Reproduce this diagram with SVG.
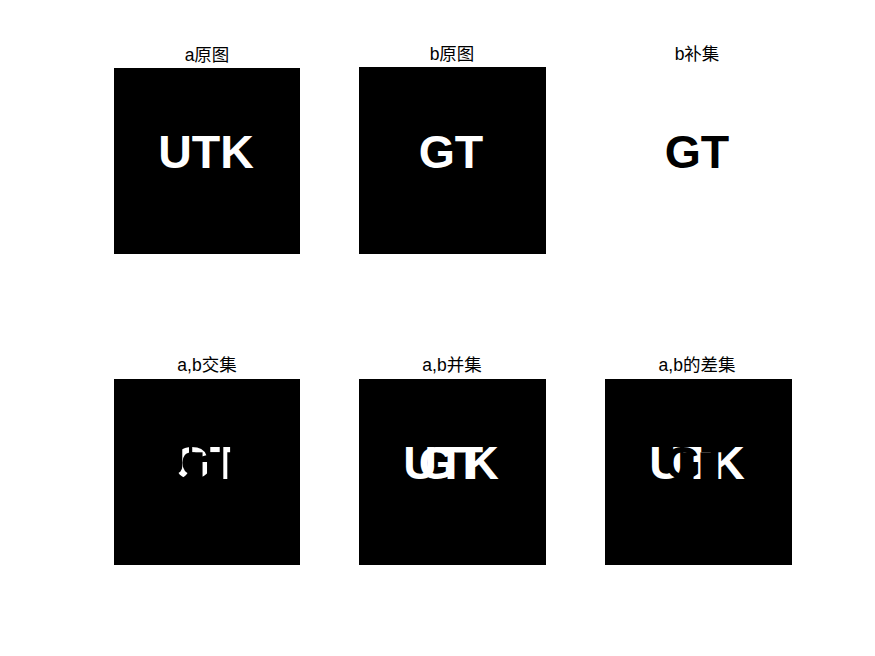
<svg xmlns="http://www.w3.org/2000/svg" width="875" height="656" viewBox="0 0 875 656">
<style>
.title{font-family:"Liberation Sans","Noto Sans CJK SC",sans-serif;font-size:17.5px;fill:#000;text-anchor:middle}
.big{font-family:"Liberation Sans",Arial,sans-serif;font-weight:bold;font-size:46.5px;text-anchor:middle}
.w{fill:#fff}
.k{fill:#000}
</style>
<defs>
<clipPath id="clipGT2">
<text class="big" x="451" y="479">GT</text>
</clipPath>
</defs>
<rect width="875" height="656" fill="#fff"/>
<g id="a-orig">
<rect x="114" y="68" width="186" height="186" fill="#000"/>
<text class="big w" x="206" y="168">UTK</text>
<text class="title" x="207" y="61">a原图</text>
</g>
<g id="b-orig">
<rect x="359" y="67" width="187" height="187" fill="#000"/>
<text class="big w" x="451" y="168">GT</text>
<text class="title" x="452" y="60">b原图</text>
</g>
<g id="b-complement">
<text class="big k" x="697" y="168">GT</text>
<text class="title" x="697" y="60">b补集</text>
</g>
<g id="ab-intersection">
<rect x="114" y="379" width="186" height="186" fill="#000"/>
<g transform="translate(-245,0)">
<text class="big w" x="451" y="479" clip-path="url(#clipGT2)">UTK</text>
</g>
<text class="title" x="207" y="371">a,b交集</text>
</g>
<g id="ab-union">
<rect x="359" y="379" width="187" height="186" fill="#000"/>
<text class="big w" x="451" y="479">UTK</text>
<text class="big w" x="451" y="479">GT</text>
<text class="title" x="452" y="371">a,b并集</text>
</g>
<g id="ab-difference">
<rect x="605" y="379" width="187" height="186" fill="#000"/>
<text class="big w" x="697" y="479">UTK</text>
<text class="big k" x="697" y="479">GT</text>
<text class="title" x="697" y="371">a,b的差集</text>
</g>
</svg>
